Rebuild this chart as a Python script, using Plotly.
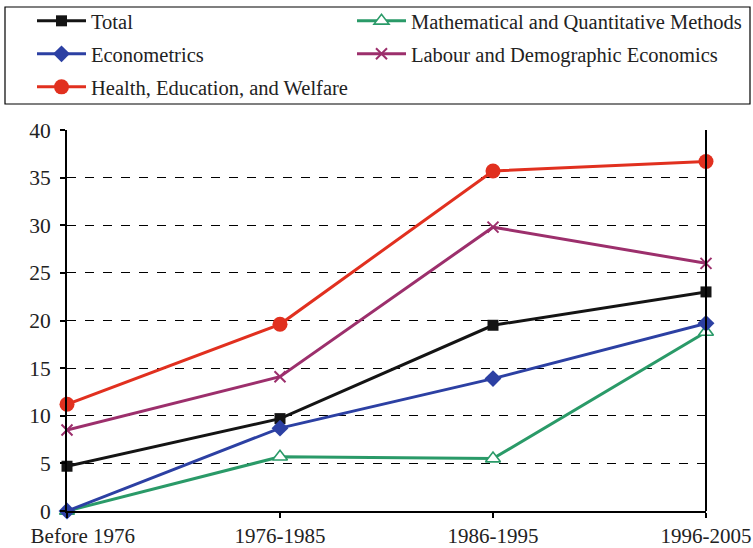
import plotly.graph_objects as go

categories = ["Before 1976", "1976-1985", "1986-1995", "1996-2005"]
total = [4.7, 9.7, 19.5, 23.0]
econometrics = [0.0, 8.7, 13.9, 19.7]
health = [11.2, 19.6, 35.7, 36.7]
math_quant = [0.0, 5.7, 5.5, 18.8]
labour = [8.5, 14.1, 29.8, 26.0]

FONT = "Liberation Serif"

fig = go.Figure()

def add(name, y, color, symbol, size, legend, fill=None, mline=0):
    fig.add_trace(go.Scatter(
        x=categories, y=y, name=name, mode="lines+markers",
        line=dict(color=color, width=3),
        marker=dict(symbol=symbol, size=size, color=fill or color,
                    line=dict(color=color, width=mline)),
        cliponaxis=False, legend=legend,
    ))

add("Total", total, "#141414", "square", 11, "legend")
add("Mathematical and Quantitative Methods", math_quant, "#2a9a68", "triangle-up", 13, "legend4", fill="white", mline=1.6)
add("Econometrics", econometrics, "#2c40a3", "diamond", 13, "legend2")
add("Labour and Demographic Economics", labour, "#9c2f6c", "x-thin-open", 11, "legend5", mline=2)
add("Health, Education, and Welfare", health, "#e1301f", "circle", 15, "legend3")

leg = dict(orientation="h", xanchor="left", yanchor="middle",
           font=dict(family=FONT, size=20.5, color="#222"),
           bgcolor="rgba(0,0,0,0)", itemwidth=49)

# plot area: x 67..706 (639px), y 130..511 (381px)
def py(pix):
    return (511 - pix) / 381

def px(pix):
    return (pix - 67) / 639

C1 = px(32)
C2 = px(352)

# first label is nudged right (as in the original) with leading spaces
tick_text = ["\u00a0" * 6 + categories[0]] + categories[1:]

fig.update_layout(
    width=753, height=548,
    margin=dict(l=67, r=47, t=130, b=37, autoexpand=False),
    paper_bgcolor="white", plot_bgcolor="white",
    font=dict(family=FONT, size=21, color="#222"),
    showlegend=True,
    legend=dict(leg, x=C1, y=py(21)),
    legend2=dict(leg, x=C1, y=py(54)),
    legend3=dict(leg, x=C1, y=py(87)),
    legend4=dict(leg, x=C2, y=py(21)),
    legend5=dict(leg, x=C2, y=py(54)),
    xaxis=dict(
        type="category", range=[0, 3], showgrid=False,
        tickvals=categories, ticktext=tick_text,
        showline=True, linecolor="black", linewidth=2,
        ticks="outside", ticklen=5, tickwidth=1.5, tickcolor="black",
        tickfont=dict(family=FONT, size=21, color="#222"),
    ),
    yaxis=dict(
        range=[0, 40], dtick=5, showgrid=True, gridcolor="black",
        griddash="dash", gridwidth=1.2, zeroline=False,
        showline=True, linecolor="black", linewidth=2,
        ticks="outside", ticklen=5, tickwidth=1.5, tickcolor="black",
        ticklabelstandoff=5,
        tickfont=dict(family=FONT, size=21.5, color="#222"),
    ),
    shapes=[
        dict(type="line", xref="paper", yref="paper", x0=1, x1=1, y0=0, y1=1,
             line=dict(color="black", width=2)),
        dict(type="rect", xref="paper", yref="paper",
             x0=px(5), x1=px(750), y0=py(104), y1=py(7),
             line=dict(color="black", width=1.2)),
    ],
)

fig.write_html("out.html", post_script="document.body.style.margin='0';",
               config={"displayModeBar": False})
